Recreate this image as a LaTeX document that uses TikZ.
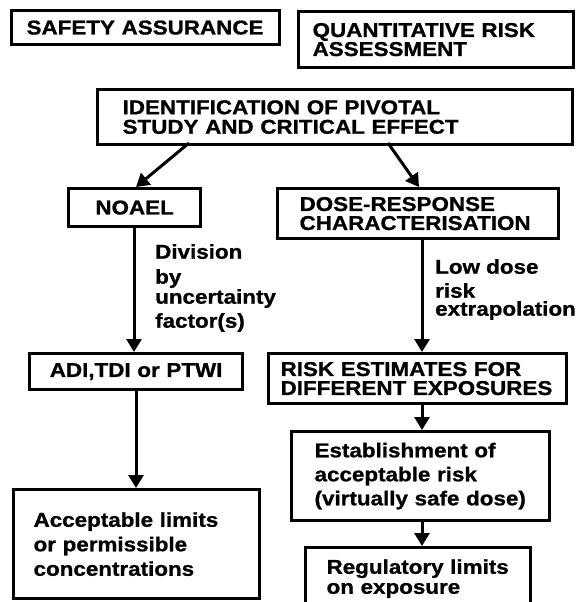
\documentclass[tikz,border=0pt]{standalone}
\usepackage{fontspec}
\setmainfont{Liberation Sans}[FakeStretch=1.12, BoldFeatures={FakeBold=1}]
\usetikzlibrary{arrows.meta}
\newcommand\oneline[1]{\mbox{#1}}
\begin{document}
\begin{tikzpicture}[x=1pt,y=-1pt,
  box/.style={draw, line width=3.2pt, align=left, inner ysep=0pt, anchor=north west,
    font=\bfseries\fontsize{20}{20}\selectfont},
  flow/.style={line width=3pt, -{Triangle[length=13pt,width=15pt]}},
  note/.style={align=left, inner sep=0pt, anchor=north west,
    font=\bfseries\fontsize{20}{20}\selectfont}]
\useasboundingbox (0,0) rectangle (576,602);
\clip (0,0) rectangle (576,602);

% header boxes
\node[box, inner xsep=15pt, text width=238pt, minimum height=34pt] (safety) at (10,9)
  {\oneline{SAFETY ASSURANCE}};
\node[box, inner xsep=14pt, text width=247pt, minimum height=56pt, font=\bfseries\fontsize{20}{19}\selectfont] (qra) at (297,10)
  {\oneline{QUANTITATIVE RISK}\\\oneline{ASSESSMENT}};

% common starting point
\node[box, inner xsep=25pt, text width=425pt, minimum height=55pt, font=\bfseries\fontsize{20}{19.5}\selectfont] (ident) at (96,88)
  {\oneline{IDENTIFICATION OF PIVOTAL}\\\oneline{STUDY AND CRITICAL EFFECT}};

% safety assurance branch
\node[box, align=center, inner xsep=0pt, text width=132pt, minimum height=38pt] (noael) at (67,187)
  {NOAEL};
\node[box, align=center, inner xsep=0pt, text width=213pt, minimum height=36pt] (adi) at (28,352)
  {ADI,TDI or PTWI};
\node[box, inner xsep=20pt, text width=206pt, minimum height=109pt, font=\bfseries\fontsize{20}{24.5}\selectfont] (accept) at (12,488)
  {\oneline{Acceptable limits}\\\oneline{or permissible}\\\oneline{concentrations}};

% quantitative risk branch
\node[box, inner xsep=22pt, text width=237pt, minimum height=50pt, font=\bfseries\fontsize{20}{19}\selectfont] (dose) at (276,187)
  {\oneline{DOSE-RESPONSE}\\\oneline{CHARACTERISATION}};
\node[box, inner xsep=12pt, text width=274pt, minimum height=50pt, font=\bfseries\fontsize{20}{19}\selectfont] (risk) at (267,352)
  {\oneline{RISK ESTIMATES FOR}\\\oneline{DIFFERENT EXPOSURES}};
\node[box, inner xsep=23pt, text width=212pt, minimum height=89pt, font=\bfseries\fontsize{20}{24}\selectfont] (establish) at (290,430)
  {\oneline{Establishment of}\\\oneline{acceptable risk}\\\oneline{(virtually safe dose)}};
\node[box, inner xsep=21pt, text width=183pt, minimum height=62pt, font=\bfseries\fontsize{20}{20}\selectfont] (regulatory) at (304,546)
  {\oneline{Regulatory limits}\\\oneline{on exposure}};

% connectors
\coordinate (identL) at (189,143);
\coordinate (identR) at (388,143);
\draw[flow] (identL) -- (noael.north -| 136,0);
\draw[flow] (identR) -- (dose.north -| 419,0);
\draw[flow] (noael.south -| 134,0) -- (adi.north -| 134,0);
\draw[flow] (dose.south -| 422,0) -- (risk.north -| 422,0);
\draw[flow] (adi.south -| 136,0) -- (accept.north -| 136,0);
\draw[flow] (risk.south -| 422,0) -- (establish.north -| 422,0);
\draw[flow] (establish.south -| 422,0) -- (regulatory.north -| 422,0);

% arrow labels
\node[note] (division) at (155,244)
  {Division\\[5pt]by\\uncertainty\\[4pt]factor(s)};
\node[note, font=\bfseries\fontsize{20}{18}\selectfont] (lowdose) at (435,259)
  {Low dose\\[6pt]risk\\extrapolation};
\end{tikzpicture}
\end{document}
